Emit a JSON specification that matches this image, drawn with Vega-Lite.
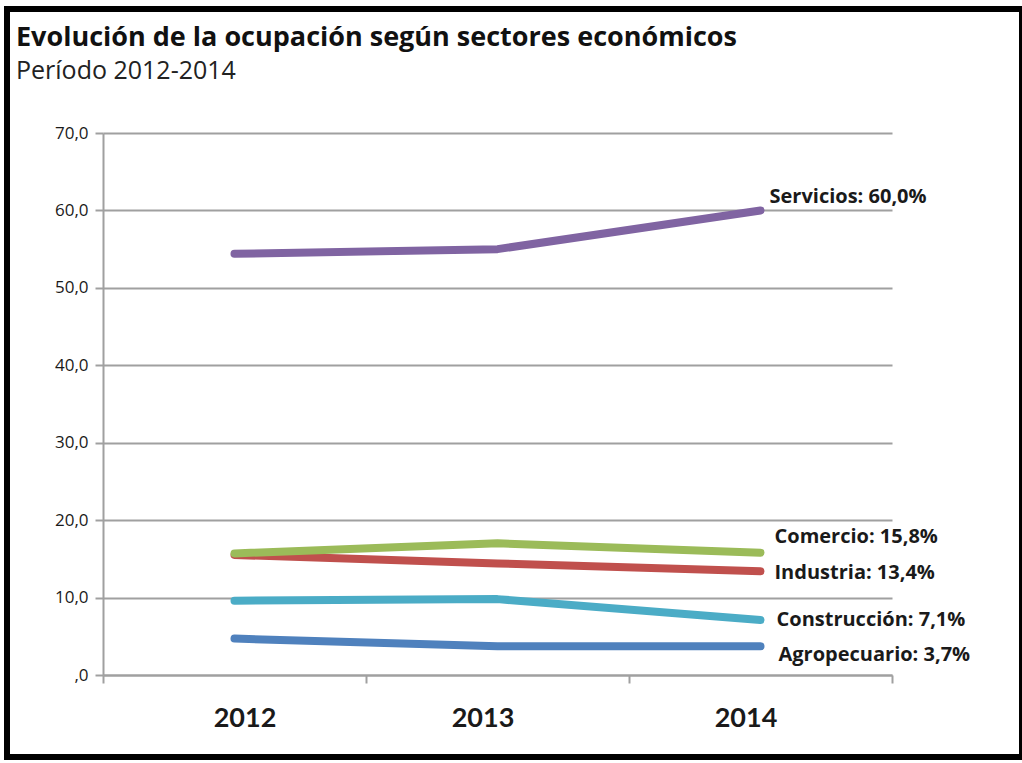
{
  "$schema": "https://vega.github.io/schema/vega-lite/v6.json",
  "width": 1015,
  "height": 748,
  "autosize": {"type": "none"},
  "padding": {"left": 7, "top": 9, "right": 0, "bottom": 6},
  "background": "white",
  "title": {
    "text": "Evolución de la ocupación según sectores económicos",
    "subtitle": "Período 2012-2014",
    "anchor": "start",
    "frame": "group",
    "offset": -76,
    "dx": 9,
    "font": "Open Sans",
    "fontSize": 27,
    "fontWeight": "bold",
    "color": "#111111",
    "subtitleFont": "Open Sans",
    "subtitleFontSize": 25,
    "subtitleColor": "#222222",
    "subtitlePadding": 7
  },
  "config": {
    "view": {"stroke": "black", "strokeWidth": 6, "fill": "white"},
    "font": "Open Sans"
  },
  "data": {
    "values": [
      {"sector": "Agropecuario", "year": "2012", "value": 4.7},
      {"sector": "Agropecuario", "year": "2013", "value": 3.7},
      {"sector": "Agropecuario", "year": "2014", "value": 3.7},
      {"sector": "Construcción", "year": "2012", "value": 9.6},
      {"sector": "Construcción", "year": "2013", "value": 9.8},
      {"sector": "Construcción", "year": "2014", "value": 7.1},
      {"sector": "Industria", "year": "2012", "value": 15.5},
      {"sector": "Industria", "year": "2013", "value": 14.4},
      {"sector": "Industria", "year": "2014", "value": 13.4},
      {"sector": "Comercio", "year": "2012", "value": 15.7},
      {"sector": "Comercio", "year": "2013", "value": 17.0},
      {"sector": "Comercio", "year": "2014", "value": 15.8},
      {"sector": "Servicios", "year": "2012", "value": 54.4},
      {"sector": "Servicios", "year": "2013", "value": 55.0},
      {"sector": "Servicios", "year": "2014", "value": 60.0}
    ]
  },
  "transform": [
    {"calculate": "datum.sector + ': ' + replace(format(datum.value, '.1f'), '.', ',') + '%'", "as": "label"}
  ],
  "encoding": {
    "x": {
      "field": "year",
      "type": "ordinal",
      "scale": {"type": "band", "range": [96, 885], "paddingInner": 0, "paddingOuter": 0},
      "axis": {
        "title": null,
        "tickBand": "extent",
        "grid": false,
        "offset": -82,
        "domainColor": "#a0a0a0",
        "domainWidth": 2,
        "tickColor": "#a0a0a0",
        "tickWidth": 2,
        "tickSize": 8,
        "labelFont": "Lato",
        "labelFontWeight": "bold",
        "labelFontSize": 27,
        "labelColor": "#1a1a1a",
        "labelPadding": 22,
        "labelAngle": 0,
        "labelOffset": {"condition": {"test": "datum.value == '2012'", "value": 10}, "value": -15}
      }
    },
    "y": {
      "field": "value",
      "type": "quantitative",
      "scale": {"domain": [0, 70], "range": [666, 124], "nice": false},
      "axis": {
        "title": null,
        "values": [0, 10, 20, 30, 40, 50, 60, 70],
        "labelExpr": "datum.value == 0 ? ',0' : replace(format(datum.value, '.1f'), '.', ',')",
        "offset": -96,
        "grid": true,
        "gridColor": "#a0a0a0",
        "gridWidth": 2,
        "domainColor": "#a0a0a0",
        "domainWidth": 2,
        "tickColor": "#a0a0a0",
        "tickWidth": 2,
        "tickSize": 8,
        "labelFont": "Open Sans",
        "labelFontSize": 17,
        "labelColor": "#1a1a1a",
        "labelPadding": 7
      }
    }
  },
  "layer": [
    {
      "mark": {"type": "line", "strokeWidth": 8, "strokeCap": "round", "strokeJoin": "round"},
      "encoding": {
        "color": {
          "field": "sector",
          "type": "nominal",
          "scale": {
            "domain": ["Agropecuario", "Construcción", "Industria", "Comercio", "Servicios"],
            "range": ["#4F81BD", "#4BACC6", "#C0504D", "#9BBB59", "#8064A2"]
          },
          "legend": null
        }
      }
    },
    {
      "transform": [{"filter": "datum.year == '2014' && datum.sector == 'Servicios'"}],
      "mark": {"type": "text", "align": "left", "baseline": "middle", "dx": 9, "dy": -13, "fontWeight": "bold", "fontSize": 20, "font": "Open Sans", "color": "#1a1a1a"},
      "encoding": {"text": {"field": "label"}}
    },
    {
      "transform": [{"filter": "datum.year == '2014' && datum.sector == 'Comercio'"}],
      "mark": {"type": "text", "align": "left", "baseline": "middle", "dx": 14, "dy": -16, "fontWeight": "bold", "fontSize": 20, "font": "Open Sans", "color": "#1a1a1a"},
      "encoding": {"text": {"field": "label"}}
    },
    {
      "transform": [{"filter": "datum.year == '2014' && datum.sector == 'Industria'"}],
      "mark": {"type": "text", "align": "left", "baseline": "middle", "dx": 14, "dy": 2, "fontWeight": "bold", "fontSize": 20, "font": "Open Sans", "color": "#1a1a1a"},
      "encoding": {"text": {"field": "label"}}
    },
    {
      "transform": [{"filter": "datum.year == '2014' && datum.sector == 'Construcción'"}],
      "mark": {"type": "text", "align": "left", "baseline": "middle", "dx": 16, "dy": 0, "fontWeight": "bold", "fontSize": 20, "font": "Open Sans", "color": "#1a1a1a"},
      "encoding": {"text": {"field": "label"}}
    },
    {
      "transform": [{"filter": "datum.year == '2014' && datum.sector == 'Agropecuario'"}],
      "mark": {"type": "text", "align": "left", "baseline": "middle", "dx": 18, "dy": 9, "fontWeight": "bold", "fontSize": 20, "font": "Open Sans", "color": "#1a1a1a"},
      "encoding": {"text": {"field": "label"}}
    }
  ]
}
